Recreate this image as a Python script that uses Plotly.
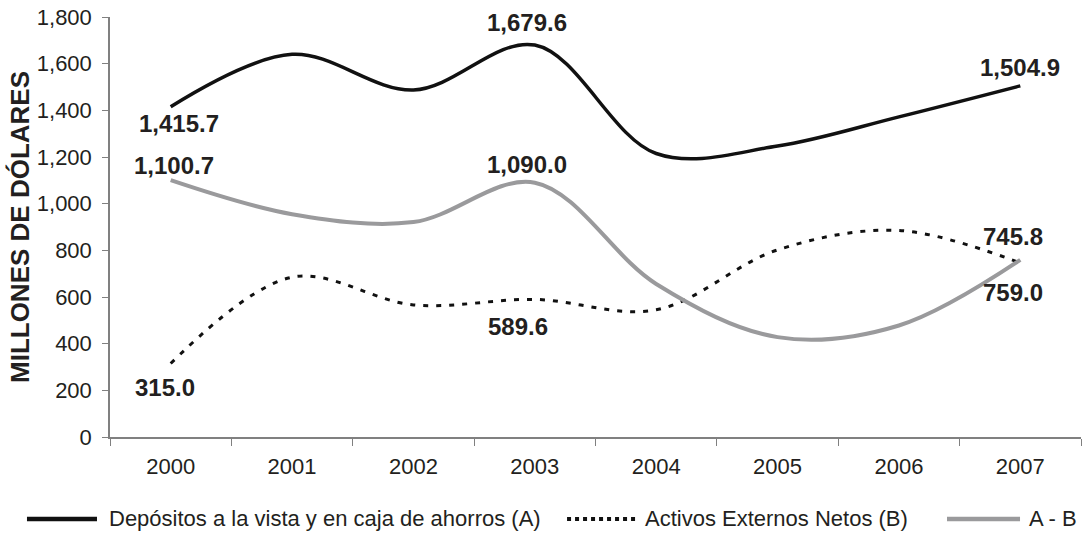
import plotly.graph_objects as go

years = ['2000', '2001', '2002', '2003', '2004', '2005', '2006', '2007']
depositos = [1415.7, 1640, 1487, 1679.6, 1215, 1247, 1372, 1504.9]
activos = [315.0, 685, 566, 589.6, 545, 802, 885, 745.8]
a_menos_b = [1100.7, 955, 921, 1090.0, 656, 428, 478, 759.0]

nombres = ['Depósitos a la vista y en caja de ahorros (A)',
           'Activos Externos Netos (B)', 'A - B']

# labelled points: (index, pixel shift x, pixel shift y)
lab_dep = [(0, 8, -17), (3, -8, 23), (7, 0, 18)]
lab_act = [(0, -6, -24), (3, -17, -27), (7, -7, 26)]
lab_ab = [(0, 3, 15), (3, -8, 18), (7, -7, -33)]

estilos = [dict(color='#111111', width=3.5),
           dict(color='#111111', width=3, dash='5px,8px'),
           dict(color='#9a9a9c', width=4)]

fig = go.Figure()

for nombre, serie, est in zip(nombres, [depositos, activos, a_menos_b], estilos):
    fig.add_trace(go.Scatter(
        x=years, y=serie, name=nombre, mode='lines',
        line=dict(shape='spline', smoothing=1, **est)
    ))

# category axis: annotations go by category index
for serie, labs in [(depositos, lab_dep), (activos, lab_act), (a_menos_b, lab_ab)]:
    for i, dx, dy in labs:
        fig.add_annotation(
            x=i, y=serie[i], text='<b>{:,.1f}</b>'.format(serie[i]),
            showarrow=False, xshift=dx, yshift=dy,
            font=dict(family='Liberation Sans', size=24, color='#231f20')
        )

# legend drawn by hand, so the swatches are as long as in the original
ley_y = -0.195
ley_lineas = [(-0.0855, -0.0134), (0.4707, 0.5427), (0.862, 0.9372)]
ley_texto = [-0.003, 0.5489, 0.9444]
for nombre, est, (x0, x1), xt in zip(nombres, estilos, ley_lineas, ley_texto):
    dash = 'dot' if 'dash' in est else 'solid'
    fig.add_shape(type='line', xref='paper', yref='paper',
                  x0=x0, x1=x1, y0=ley_y, y1=ley_y,
                  line=dict(color=est['color'], width=4.5 if dash == 'solid' else 4, dash=dash))
    fig.add_annotation(xref='paper', yref='paper', x=xt, y=ley_y, text=nombre,
                       showarrow=False, xanchor='left', yanchor='middle',
                       font=dict(size=22, color='#231f20'))

fig.update_layout(
    width=1082, height=536,
    paper_bgcolor='white', plot_bgcolor='white',
    margin=dict(l=110, r=1, t=17, b=99),
    font=dict(family='Liberation Sans', color='#231f20'),
    showlegend=False,
    xaxis=dict(
        type='category', range=[-0.5, 7.5], automargin=False,
        showline=True, linecolor='#808080', linewidth=1.5,
        ticks='outside', tickson='boundaries', ticklen=7, tickcolor='#808080',
        tickfont=dict(size=22), showgrid=False, ticklabelstandoff=9
    ),
    yaxis=dict(
        range=[0, 1800], dtick=200, tickformat=',', automargin=False,
        showline=True, linecolor='#808080', linewidth=1.5,
        ticks='outside', ticklen=6, tickcolor='#808080',
        tickfont=dict(size=22), showgrid=False, zeroline=False, ticklabelstandoff=6,
        title=dict(text='<b>MILLONES DE DÓLARES</b>', font=dict(size=26), standoff=0)
    )
)

# page body margin would push the figure 8px down and right
fig.write_html("out.html", config={'displayModeBar': False},
               post_script="document.body.style.margin='0px';")
